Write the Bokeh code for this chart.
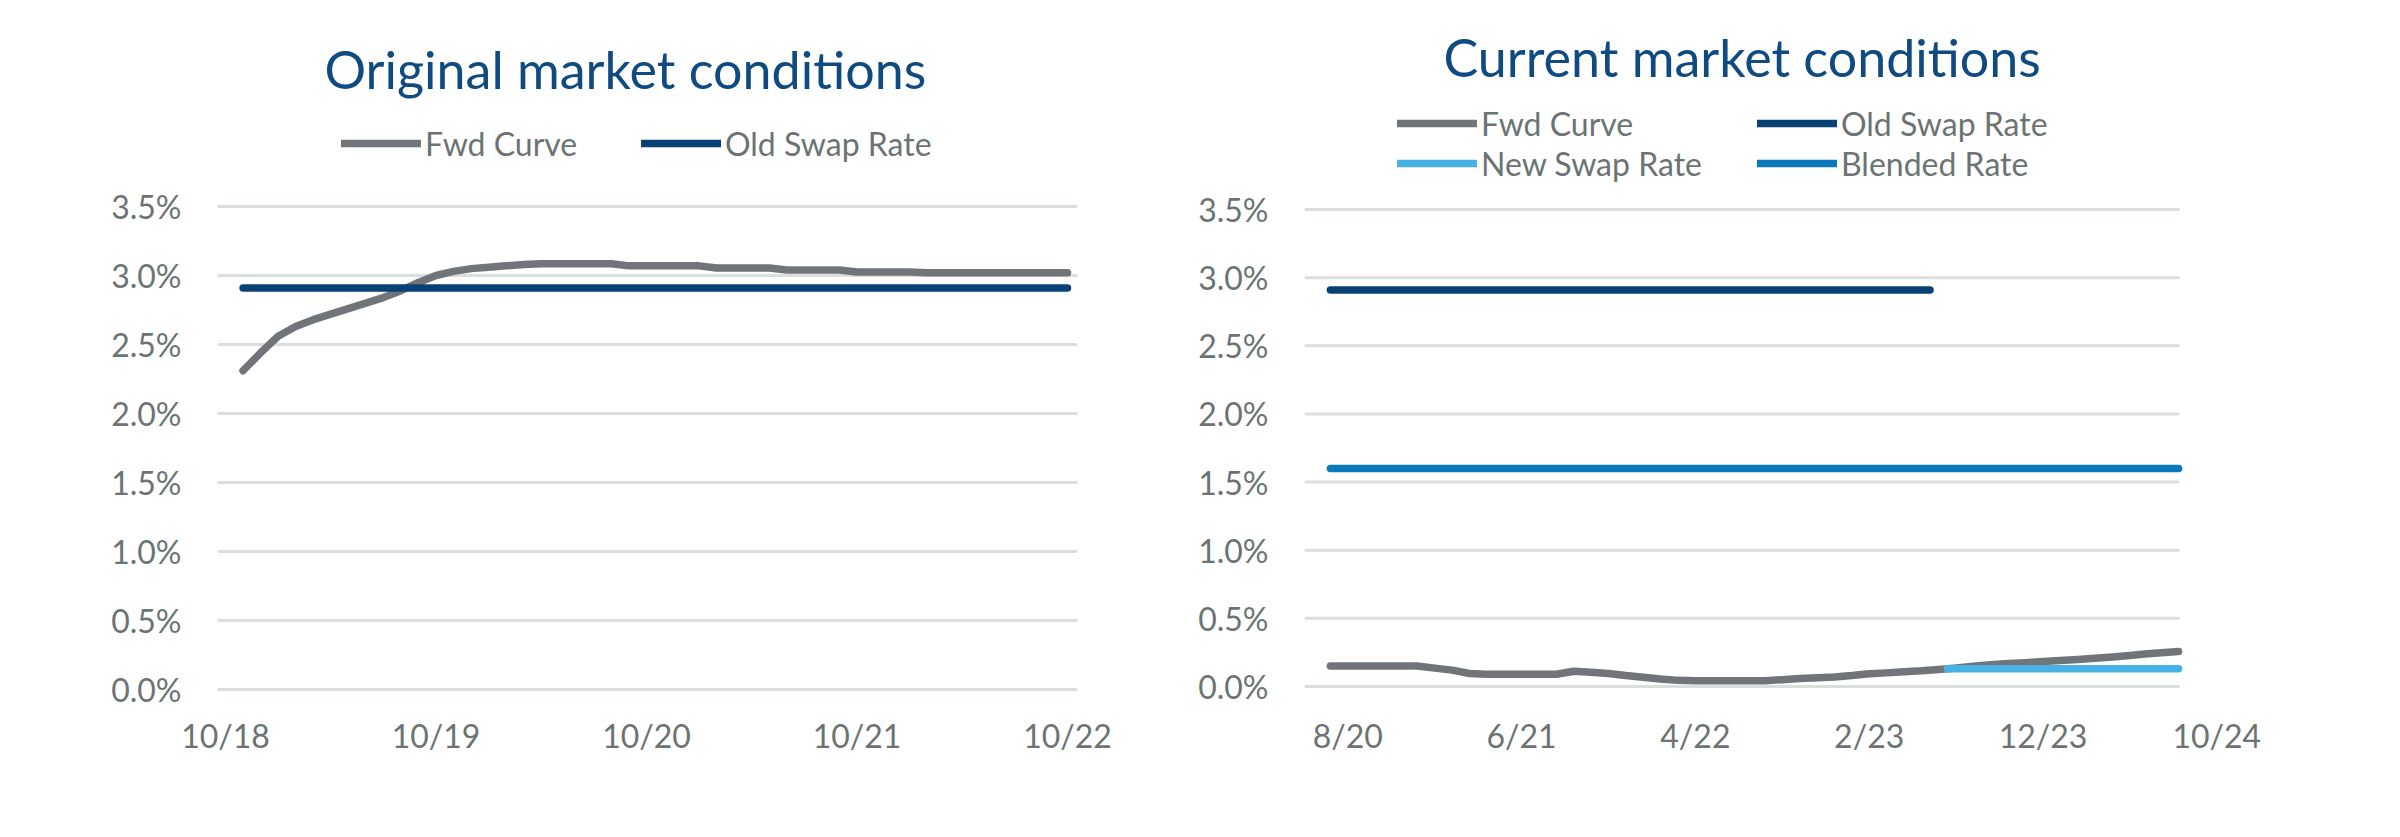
from bokeh.plotting import figure
from bokeh.layouts import row
from bokeh.models import (Range1d, FixedTicker, PrintfTickFormatter, Legend, LegendItem)
from bokeh.embed import file_html
from bokeh.resources import INLINE

# ---------------- data ----------------
# Left panel: months since 10/18
orig_months = [1, 2, 3, 4, 5, 6, 7, 8, 9, 10, 11, 12, 13, 14, 15, 16, 17, 18, 19, 20, 21, 22, 23, 24,
               25, 26, 27, 28, 29, 30, 31, 32, 33, 34, 35, 36, 37, 38, 39, 40, 41, 42, 43, 44, 45, 46, 47, 48]
orig_fwd = [2.31, 2.44, 2.56, 2.63, 2.68, 2.72, 2.76, 2.80, 2.84, 2.89, 2.95, 3.00,
            3.03, 3.05, 3.06, 3.07, 3.08, 3.085, 3.085, 3.085, 3.085, 3.085, 3.07, 3.07,
            3.07, 3.07, 3.07, 3.055, 3.055, 3.055, 3.055, 3.04, 3.04, 3.04, 3.04, 3.025,
            3.025, 3.025, 3.025, 3.02, 3.02, 3.02, 3.02, 3.02, 3.02, 3.02, 3.02, 3.02]
orig_swap_months = [1, 48]
orig_swap_rate = [2.91, 2.91]
orig_tick_pos = [0, 12, 24, 36, 48]
orig_tick_labels = ["10/18", "10/19", "10/20", "10/21", "10/22"]

# Right panel: months since 7/20
cur_months = [0, 1, 2, 3, 4, 5, 6, 7, 8, 9, 10, 11, 12, 13, 14, 15, 16, 17, 18, 19, 20, 21, 22, 23, 24,
              25, 26, 27, 28, 29, 30, 31, 32, 33, 34, 35, 36, 37, 38, 39, 40, 41, 42, 43, 44, 45, 46, 47, 48.8]
cur_fwd = [0.15, 0.15, 0.15, 0.15, 0.15, 0.15, 0.135, 0.12, 0.095, 0.09, 0.09, 0.09, 0.09, 0.09,
           0.112, 0.105, 0.095, 0.08, 0.068, 0.055, 0.045, 0.042, 0.042, 0.042, 0.042, 0.042,
           0.05, 0.058, 0.065, 0.07, 0.08, 0.093, 0.10, 0.108, 0.115, 0.125, 0.135, 0.148, 0.16,
           0.168, 0.175, 0.183, 0.19, 0.198, 0.207, 0.217, 0.228, 0.24, 0.257]
old_swap_months = [0, 34.5]
old_swap_rate = [2.91, 2.91]
new_swap_months = [35.5, 48.8]
new_swap_rate = [0.13, 0.13]
blended_months = [0, 48.8]
blended_rate = [1.60, 1.60]
cur_tick_pos = [1, 11, 21, 31, 41, 51]
cur_tick_labels = ["8/20", "6/21", "4/22", "2/23", "12/23", "10/24"]
cur_area = [-1.49, 48.85]   # extent of the plotting area (gridlines)

y_ticks = [0, 0.5, 1.0, 1.5, 2.0, 2.5, 3.0, 3.5]

# ---------------- style ----------------
FONT = "Lato"
TXT = "#6B7473"
TITLE_C = "#0F4A80"
GRID_C = "#DADEDD"
C_FWD = "#717579"
C_OLD = "#0A4174"
C_NEW = "#48B2E4"
C_BLEND = "#0A78BA"
LW = 7.5
FIG_W, FIG_H = 1192, 810
MB_TOP, MB_BOTTOM = 101, 116


def base_fig(xr, yr, mbl, mbr, title, offset, standoff):
    p = figure(width=FIG_W, height=FIG_H, output_backend="svg", toolbar_location=None,
               x_range=xr, y_range=yr, title=title,
               min_border_left=mbl, min_border_right=mbr, min_border_top=MB_TOP, min_border_bottom=MB_BOTTOM)
    p.outline_line_color = None
    p.background_fill_color = "white"
    p.border_fill_color = "white"
    p.title.align = "left"
    p.title.offset = offset
    p.title.standoff = standoff
    p.title.text_font = FONT
    p.title.text_font_size = "52px"
    p.title.text_font_style = "normal"
    p.title.text_color = TITLE_C
    p.xgrid.visible = False
    p.ygrid.grid_line_color = GRID_C
    p.ygrid.grid_line_width = 3
    p.yaxis.ticker = FixedTicker(ticks=y_ticks)
    p.yaxis.formatter = PrintfTickFormatter(format="%.1f%%")
    for ax in (p.xaxis, p.yaxis):
        ax.axis_line_color = None
        ax.major_tick_line_color = None
        ax.minor_tick_line_color = None
        ax.major_tick_out = 0
        ax.major_tick_in = 0
        ax.minor_tick_out = 0
        ax.major_label_text_font = FONT
        ax.major_label_text_font_size = "32px"
        ax.major_label_text_color = TXT
    p.yaxis.major_label_standoff = 36
    p.xaxis.major_label_standoff = 21
    return p


def make_legend(items, ncols, label_width, loc):
    lg = Legend(items=items, orientation="horizontal", ncols=ncols, location=loc, spacing=0)
    lg.label_text_font = FONT
    lg.label_text_font_size = "32px"
    lg.label_text_color = TXT
    lg.glyph_width = 80
    lg.glyph_height = 40
    lg.label_height = 40
    lg.label_width = label_width
    lg.label_standoff = 4
    lg.padding = 0
    lg.margin = 0
    lg.border_line_color = None
    lg.background_fill_alpha = 0
    return lg


# ---------------- left ----------------
left = base_fig(Range1d(-0.456, 48.57), Range1d(-0.036, 4.261),
                217, 115, "Original market conditions", 107, 4)
left.xaxis.ticker = FixedTicker(ticks=orig_tick_pos)
left.xaxis.major_label_overrides = {k: v for k, v in zip(orig_tick_pos, orig_tick_labels)}

r1 = left.line(orig_months, orig_fwd, line_color=C_FWD, line_width=LW, line_cap="round", line_join="round")
r2 = left.line(orig_swap_months, orig_swap_rate, line_color=C_OLD, line_width=LW, line_cap="round")
lg1 = make_legend([LegendItem(label="Fwd Curve", renderers=[r1]),
                   LegendItem(label="Old Swap Rate", renderers=[r2])], 2, 216, (124, 531))
left.add_layout(lg1, "center")

# ---------------- right ----------------
right = base_fig(Range1d(-1.49, 51.5), Range1d(-0.0587, 4.2924),
                 112, 159, "Current market conditions", 139, 28)
right.ygrid.visible = False
right.segment(x0=cur_area[0], x1=cur_area[1], y0=y_ticks, y1=y_ticks,
              line_color=GRID_C, line_width=3, level="underlay")
right.xaxis.ticker = FixedTicker(ticks=cur_tick_pos)
right.xaxis.major_label_overrides = {k: v for k, v in zip(cur_tick_pos, cur_tick_labels)}

q1 = right.line(cur_months, cur_fwd, line_color=C_FWD, line_width=LW, line_cap="round", line_join="round")
q2 = right.line(old_swap_months, old_swap_rate, line_color=C_OLD, line_width=LW, line_cap="round")
q4 = right.line(blended_months, blended_rate, line_color=C_BLEND, line_width=LW, line_cap="round")
q3 = right.line(new_swap_months, new_swap_rate, line_color=C_NEW, line_width=LW, line_cap="round")
lg2 = make_legend([LegendItem(label="Fwd Curve", renderers=[q1]),
                   LegendItem(label="Old Swap Rate", renderers=[q2]),
                   LegendItem(label="New Swap Rate", renderers=[q3]),
                   LegendItem(label="Blended Rate", renderers=[q4])], 2, 276, (93, 511))
right.add_layout(lg2, "center")

layout = row(left, right)
open("out.html", "w").write(file_html(layout, INLINE))
